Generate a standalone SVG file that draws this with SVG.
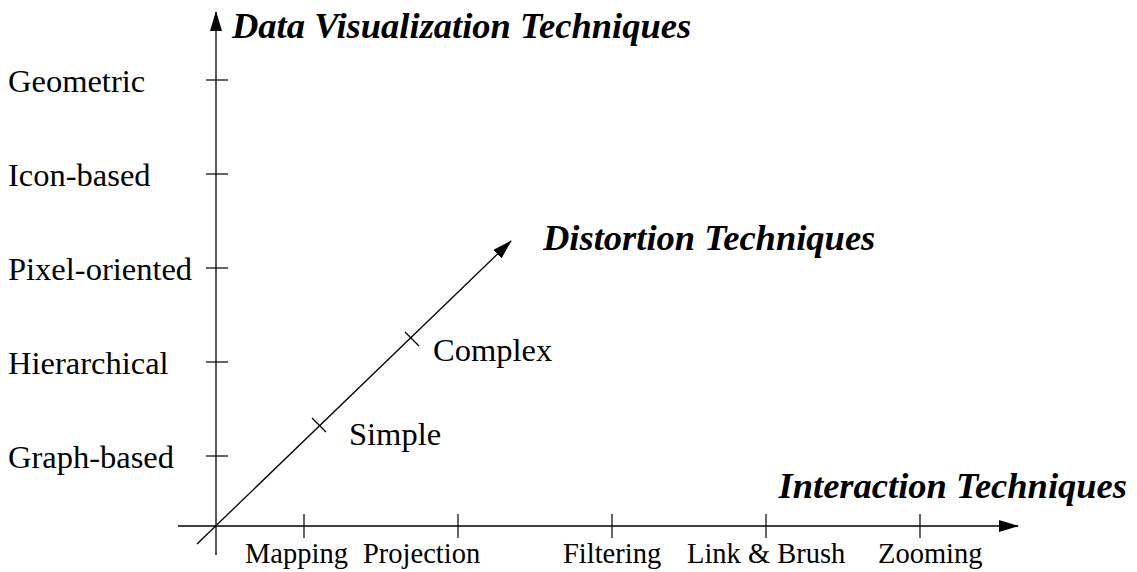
<svg xmlns="http://www.w3.org/2000/svg" width="1137" height="572" viewBox="0 0 1137 572">
<style>
.ax{stroke:#000;stroke-width:1.3;fill:none}
.tk{stroke:#000;stroke-width:1.2;fill:none}
.lbl{font-family:"Liberation Serif","Times New Roman",serif;font-size:32.5px;fill:#000}
.xl{font-family:"Liberation Serif","Times New Roman",serif;font-size:28.5px;fill:#000}
.ttl{font-family:"Liberation Serif","Times New Roman",serif;font-size:36.5px;font-weight:bold;font-style:italic;fill:#000}
</style>
<defs>
<marker id="ah" markerWidth="20" markerHeight="12" refX="19" refY="6" orient="auto" markerUnits="userSpaceOnUse">
<path d="M0,0 L20,6 L0,12 Z" fill="#000"/>
</marker>
</defs>
<rect width="1137" height="572" fill="#fff"/>
<g id="connectors">
<line class="ax" x1="216" y1="555" x2="216" y2="12" marker-end="url(#ah)"/>
<line class="ax" x1="178" y1="526" x2="1018" y2="526" marker-end="url(#ah)"/>
<line class="ax" x1="197" y1="544" x2="511" y2="241" stroke-width="1" marker-end="url(#ah)"/>
</g>
<g id="ticks">
<line class="tk" x1="206" y1="80" x2="228" y2="80"/>
<line class="tk" x1="206" y1="174" x2="228" y2="174"/>
<line class="tk" x1="206" y1="268" x2="228" y2="268"/>
<line class="tk" x1="206" y1="362" x2="228" y2="362"/>
<line class="tk" x1="206" y1="456" x2="228" y2="456"/>
<line class="tk" x1="304" y1="514" x2="304" y2="538"/>
<line class="tk" x1="458" y1="514" x2="458" y2="538"/>
<line class="tk" x1="612" y1="514" x2="612" y2="538"/>
<line class="tk" x1="766" y1="514" x2="766" y2="538"/>
<line class="tk" x1="920" y1="514" x2="920" y2="538"/>
<line class="tk" x1="312" y1="418" x2="326" y2="432"/>
<line class="tk" x1="405" y1="332" x2="419" y2="346"/>
</g>
<g id="y-labels">
<text class="lbl" x="8" y="92">Geometric</text>
<text class="lbl" x="8" y="186">Icon-based</text>
<text class="lbl" x="8" y="280">Pixel-oriented</text>
<text class="lbl" x="8" y="374">Hierarchical</text>
<text class="lbl" x="8" y="468">Graph-based</text>
</g>
<g id="x-labels">
<text class="xl" x="245" y="563">Mapping</text>
<text class="xl" x="363" y="563">Projection</text>
<text class="xl" x="563" y="563">Filtering</text>
<text class="xl" x="687" y="563">Link &amp; Brush</text>
<text class="xl" x="878" y="563">Zooming</text>
</g>
<g id="d-labels">
<text class="lbl" x="433" y="361">Complex</text>
<text class="lbl" x="349" y="445">Simple</text>
</g>
<g id="titles">
<text class="ttl" x="232" y="38">Data Visualization Techniques</text>
<text class="ttl" x="543" y="250">Distortion Techniques</text>
<text class="ttl" x="1127" y="498" text-anchor="end">Interaction Techniques</text>
</g>
</svg>
